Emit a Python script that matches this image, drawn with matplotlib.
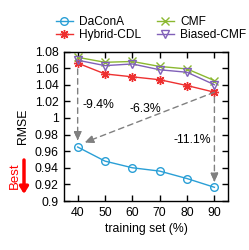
import matplotlib
matplotlib.use("Agg")
import matplotlib.pyplot as plt
from matplotlib.ticker import FuncFormatter

plt.rcParams['font.family'] = ['Liberation Sans', 'DejaVu Sans']

train = [40, 50, 60, 70, 80, 90]
daconA = [0.965, 0.948, 0.940, 0.936, 0.927, 0.9165]
hybrid = [1.066, 1.053, 1.0495, 1.046, 1.039, 1.031]
cmf = [1.073, 1.067, 1.068, 1.062, 1.059, 1.045]
biased = [1.0695, 1.063, 1.065, 1.058, 1.055, 1.040]

series_names = ["DaConA", "Hybrid-CDL", "CMF", "Biased-CMF"]
pct_labels = ["-9.4%", "-6.3%", "-11.1%"]

fig = plt.figure(figsize=(2.49, 2.50), dpi=100)
ax = fig.add_axes([0.257, 0.196, 0.659, 0.598])

fs = 8.8
c_blue, c_red, c_green, c_purple = '#2a9fd6', '#ee3030', '#8bb830', '#8060b8'
ax.plot(train, daconA, color=c_blue, marker='o', mfc='none', ms=5.5, mew=1, lw=1, label=series_names[0])
ax.plot(train, hybrid, color=c_red, marker=(8, 2, 0), ms=6.5, mew=1, lw=1, label=series_names[1])
ax.plot(train, cmf, color=c_green, marker='x', ms=5.5, mew=1, lw=1, label=series_names[2])
ax.plot(train, biased, color=c_purple, marker='v', mfc='none', ms=5.5, mew=1, lw=1, label=series_names[3])

gray = '#808080'
def darrow(x0, y0, x1, y1):
    ax.annotate('', xy=(x1, y1), xytext=(x0, y0),
                arrowprops=dict(arrowstyle='-|>,head_length=0.5,head_width=0.22', color=gray,
                                lw=1, ls=(0, (4, 3)), shrinkA=0, shrinkB=0))
    ax.annotate('', xy=(x1, y1), xytext=(x0 + (x1 - x0) * 0.97, y0 + (y1 - y0) * 0.97),
                arrowprops=dict(arrowstyle='-|>,head_length=0.5,head_width=0.22', color=gray,
                                lw=1, shrinkA=0, shrinkB=0))

darrow(train[0], 1.059, train[0], 0.973)
darrow(train[5], hybrid[5], 42.6, 0.9705)
darrow(train[5], 1.025, train[5], 0.923)

ax.text(41.6, 1.0155, pct_labels[0], fontsize=fs, ha='left', va='center')
ax.text(64.6, 1.0107, pct_labels[1], fontsize=fs, ha='center', va='center')
ax.text(81.8, 0.973, pct_labels[2], fontsize=fs, ha='center', va='center')

ax.set_xlim(35, 95)
ax.set_ylim(0.9, 1.08)
ax.set_xticks(train)
ax.set_yticks([0.9, 0.92, 0.94, 0.96, 0.98, 1.0, 1.02, 1.04, 1.06, 1.08])
ax.yaxis.set_major_formatter(FuncFormatter(lambda v, p: f"{v:g}"))
ax.tick_params(direction='in', top=True, right=True, labelsize=fs, length=4, width=1, pad=4)
for s in ax.spines.values():
    s.set_linewidth(1)
ax.set_xlabel("training set (%)", fontsize=fs, labelpad=3)
ax.set_ylabel("RMSE", fontsize=fs, labelpad=4)

fig.legend(loc='upper left', bbox_to_anchor=(0.225, 0.935), ncol=2, frameon=False,
           fontsize=8.6, handlelength=1.4, handletextpad=0.55, columnspacing=1.3,
           labelspacing=0.1, borderaxespad=0, borderpad=0)

fig.text(15 / 249, 1 - 176 / 250, "Best", color='red', rotation=90, fontsize=9.5,
         ha='center', va='center')
fig.patches.append(matplotlib.patches.FancyArrowPatch(
    (24 / 249, 1 - 160 / 250), (24 / 249, 1 - 194 / 250), transform=fig.transFigure,
    arrowstyle='-|>,head_length=0.4,head_width=0.25', color='red', lw=2.5, shrinkA=0, shrinkB=0,
    mutation_scale=10))

fig.savefig("out.png", dpi=100)
